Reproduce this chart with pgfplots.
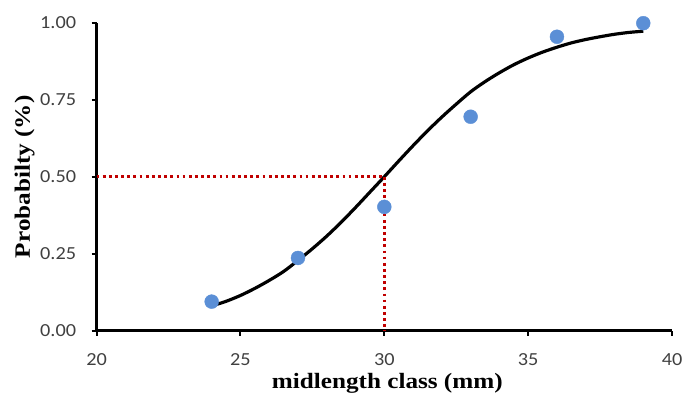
\documentclass[border=0pt]{standalone}
\usepackage{pgfplots}
\pgfplotsset{compat=1.18}
\usepackage{fontspec}
\setmainfont[FakeStretch=1.15]{Liberation Serif}
\newfontfamily\tickfont[FakeStretch=1.1]{Carlito}
\definecolor{ptblue}{HTML}{5B8FD6}
\definecolor{dred}{HTML}{C00000}
\definecolor{tickgray}{HTML}{404040}
\begin{document}
\begin{tikzpicture}
\useasboundingbox (-97bp,-71bp) rectangle (589bp,332bp);
\begin{axis}[
  at={(0,0)}, anchor=origin,
  scale only axis,
  width=578bp, height=309bp,
  xmin=20, xmax=40, ymin=0, ymax=1,
  axis x line*=bottom, axis y line*=left,
  axis line style={line width=2.2pt, -},
  xtick={20,25,30,35,40},
  ytick={0,0.25,0.5,0.75,1},
  tick align=outside,
  major tick length=5bp,
  tick style={line width=2pt, black},
  yticklabel style={/pgf/number format/fixed, /pgf/number format/fixed zerofill, /pgf/number format/precision=2},
  /pgf/number format/assume math mode=true,
  ticklabel style={font=\tickfont\fontsize{18.5bp}{20bp}\selectfont, text=tickgray},
  xticklabel style={yshift=-15bp},
  yticklabel style={xshift=-12bp},
  xlabel={\textbf{midlength class (mm)}},
  ylabel={\textbf{Probabilty (\%)}},
  label style={font=\fontsize{22bp}{24bp}\selectfont},
  xlabel style={at={(rel axis cs:0.5,0)}, anchor=base, yshift=-58bp, xshift=3bp},
  ylabel style={at={(axis description cs:-0.116,0.5)}, anchor=base, rotate=0},
  clip=false,
]
\addplot[black, line width=3.2pt, smooth, no marks] coordinates {
(24,0.080) (24.5,0.095) (25,0.114) (25.5,0.137) (26,0.163) (26.5,0.192)
(27,0.228) (27.5,0.266) (28,0.307) (28.5,0.352) (29,0.400) (29.5,0.450)
(30,0.500) (30.5,0.551) (31,0.601) (31.5,0.649) (32,0.694) (32.5,0.736)
(33,0.776) (33.5,0.809) (34,0.838) (34.5,0.864) (35,0.886) (35.5,0.905)
(36,0.921) (36.5,0.935) (37,0.946) (37.5,0.955) (38,0.963) (38.5,0.969) (39,0.973)
};
\addplot[dred, line width=2.8pt, dash pattern=on 2.8pt off 3.4pt, no marks] coordinates {(20,0.5) (30,0.5)};
\addplot[dred, line width=2.8pt, dash pattern=on 2.8pt off 3.4pt, no marks] coordinates {(30,0.5) (30,0)};
\addplot[only marks, mark=*, mark size=7bp, mark options={draw=ptblue, fill=ptblue}] coordinates {
(24,0.094) (27,0.236) (30,0.402) (33,0.695) (36,0.955) (39,0.999)
};
\end{axis}
\end{tikzpicture}
\end{document}
